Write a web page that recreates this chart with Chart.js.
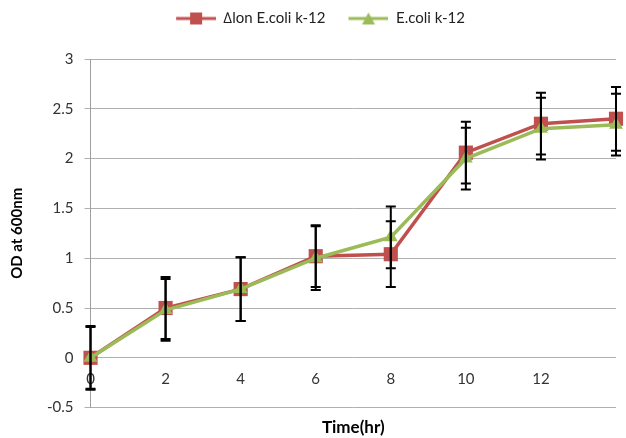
<!DOCTYPE html>
<html>
<head>
<meta charset="utf-8">
<script src="https://cdn.jsdelivr.net/npm/chart.js@4.4.1/dist/chart.umd.min.js"></script>
<style>
  html, body { margin: 0; padding: 0; background: #fff; }
  #wrap { width: 626px; height: 438px; }
</style>
</head>
<body>
<div id="wrap"><canvas id="growth"></canvas></div>
<script>
// growth curve data (OD600 vs time)
const times = [0, 2, 4, 6, 8, 10, 12, 14];
const lonOD = [0, 0.50, 0.69, 1.02, 1.04, 2.06, 2.35, 2.40];
const lonErr = [0.32, 0.31, 0.32, 0.31, 0.33, 0.31, 0.31, 0.32];
const wtOD = [0, 0.48, 0.69, 1.00, 1.21, 2.00, 2.30, 2.34];
const wtErr = [0.31, 0.31, 0.32, 0.32, 0.31, 0.31, 0.31, 0.31];
const seriesNames = ['\u2206lon E.coli k-12', 'E.coli k-12'];

const RED = '#C0504D';
const GREEN = '#9BBB59';
const FONT = 'Lato, "Open Sans", sans-serif';

// legend icon: line with marker in the middle (left part transparent = spacing)
function legendIcon(color, marker) {
    const c = document.createElement('canvas');
    c.width = 52; c.height = 14;
    const g = c.getContext('2d');
    g.strokeStyle = color; g.lineWidth = 3;
    g.beginPath(); g.moveTo(12, 7); g.lineTo(52, 7); g.stroke();
    g.fillStyle = color;
    if (marker === 'rect') {
        g.fillRect(26, 1, 12, 12);
    } else {
        g.beginPath(); g.moveTo(32, 1); g.lineTo(38.5, 13); g.lineTo(25.5, 13); g.closePath(); g.fill();
    }
    return c;
}
const icons = [legendIcon(RED, 'rect'), legendIcon(GREEN, 'triangle')];

const errorBars = {
    id: 'errorBars',
    afterDatasetsDraw(chart) {
        const { ctx, scales: { x, y } } = chart;
        ctx.save();
        ctx.strokeStyle = '#000';
        ctx.lineWidth = 2;
        [[lonOD, lonErr], [wtOD, wtErr]].forEach(([vals, errs]) => {
            times.forEach((t, i) => {
                const px = x.getPixelForValue(t);
                const top = y.getPixelForValue(vals[i] + errs[i]);
                const bot = y.getPixelForValue(vals[i] - errs[i]);
                ctx.beginPath();
                ctx.moveTo(px, top); ctx.lineTo(px, bot);
                ctx.moveTo(px - 5, top); ctx.lineTo(px + 5, top);
                ctx.moveTo(px - 5, bot); ctx.lineTo(px + 5, bot);
                ctx.stroke();
            });
        });
        ctx.restore();
    }
};

// extra room under the legend
const legendGap = {
    id: 'legendGap',
    beforeLayout(chart) {
        const lg = chart.legend;
        if (lg && !lg._gapPatched) {
            const fit = lg.fit;
            lg.fit = function() { fit.call(this); this.height += 23; };
            lg._gapPatched = true;
        }
    }
};

new Chart(document.getElementById('growth'), {
    type: 'line',
    data: {
        datasets: [
            {
                label: seriesNames[0],
                data: times.map((t, i) => ({ x: t, y: lonOD[i] })),
                borderColor: RED, backgroundColor: RED,
                borderWidth: 3.5, pointStyle: 'rect', pointRadius: 10,
                pointBorderWidth: 0, tension: 0, order: 2, clip: false
            },
            {
                label: seriesNames[1],
                data: times.map((t, i) => ({ x: t, y: wtOD[i] })),
                borderColor: GREEN, backgroundColor: GREEN,
                borderWidth: 3.5, pointStyle: 'triangle', pointRadius: 8,
                pointBorderWidth: 0, tension: 0, order: 1, clip: false
            }
        ]
    },
    options: {
        responsive: true, maintainAspectRatio: false, animation: false,
        layout: { padding: { left: 8, right: 5, top: 0, bottom: 0 } },
        plugins: {
            tooltip: { enabled: false },
            legend: {
                position: 'top',
                labels: {
                    usePointStyle: true, pointStyleWidth: 52,
                    color: '#222', font: { family: FONT, size: 15 }, padding: 11,
                    generateLabels: (chart) => chart.data.datasets.map((ds, i) => ({
                        text: ds.label, datasetIndex: i, hidden: false,
                        fillStyle: ds.borderColor, strokeStyle: ds.borderColor,
                        lineWidth: 0, pointStyle: icons[i], fontColor: '#222'
                    }))
                }
            }
        },
        scales: {
            x: {
                type: 'linear', min: 0, max: 14,
                position: { y: 0 },
                grid: { display: false },
                border: { display: false },
                ticks: {
                    stepSize: 2, padding: 4, color: '#333',
                    font: { family: FONT, size: 15 },
                    callback: (v) => v === 14 ? '' : v
                }
            },
            xTitle: {
                type: 'linear', min: 0, max: 14, position: 'bottom',
                grid: { display: false }, border: { display: false },
                ticks: { display: false },
                title: { display: true, text: 'Time(hr)', color: '#000', padding: { top: 2, bottom: 0 },
                         font: { family: FONT, size: 17, weight: 'bold' } }
            },
            y: {
                min: -0.5, max: 3,
                grid: { color: '#b0b0b0', tickLength: 6, drawTicks: true },
                border: { color: '#a0a0a0' },
                ticks: { stepSize: 0.5, padding: 11, color: '#333', font: { family: FONT, size: 15 },
                         callback: (v) => String(v) },
                title: { display: true, text: 'OD at 600nm', color: '#000', padding: { top: 0, bottom: 10 },
                         font: { family: FONT, size: 15, weight: 'bold' } }
            }
        }
    },
    plugins: [errorBars, legendGap]
});
</script>
</body>
</html>
